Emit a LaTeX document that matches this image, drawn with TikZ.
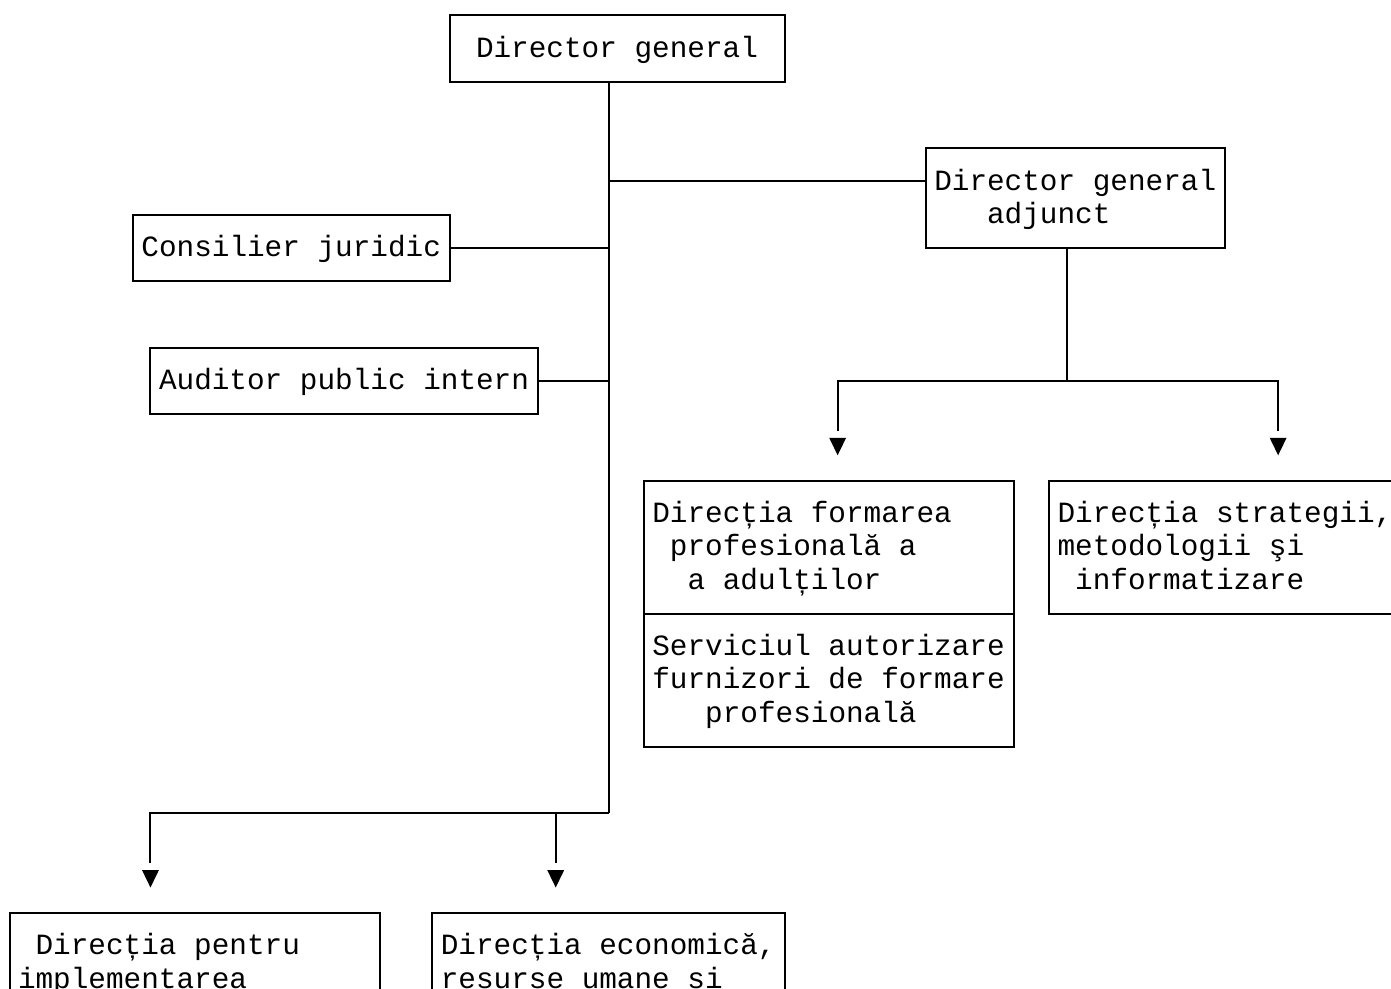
\documentclass[tikz,border=0pt]{standalone}
\usepackage{fontspec}
\newfontfamily\courfont{Liberation Mono}[WordSpace={1,0,0}]
\newcommand{\boxfont}{\courfont\fontsize{29.36pt}{33.25pt}\selectfont}
\newcommand{\st}{\spaceskip=17.6189pt plus 0pt minus 0pt\relax\xspaceskip=\spaceskip
  \baselineskip=33.25pt\relax\lineskip=0pt\relax\lineskiplimit=0pt\relax
  \rule[-7.85pt]{0pt}{33.25pt}}
\setlength{\parindent}{0pt}
\tikzset{
  orgbox/.style={draw, line width=2pt, rectangle, inner xsep=8.81pt, inner ysep=0pt,
    align=left, font=\boxfont, anchor=center},
  link/.style={line width=2pt, line join=miter},
}
\newcommand{\tri}[1]{\fill[black] (#1) ++(-8.5,-9.5) -- ++(17,0) -- ++(-8.5,17.5) -- cycle;}
\begin{document}
\begin{tikzpicture}[x=1pt,y=-1pt]
\useasboundingbox (0,0) rectangle (1391,988);
\fill[white] (0,0) rectangle (1391,988);
\clip (0,0) rectangle (1391,988);

% boxes
\node[orgbox, text width=318pt, minimum height=66.5pt, inner xsep=8.39pt] (dg) at (617.39,48.25)
  {\st\phantom{a}Director general};
\node[orgbox, text width=282.5pt, minimum height=99.75pt, inner xsep=8.52pt] (dga) at (1075.51,197.875)
  {\st Director general\\\st\phantom{aaa}adjunct};
\node[orgbox, text width=300pt, minimum height=66.5pt, inner xsep=8.58pt] (cj) at (291.42,247.75)
  {\st Consilier juridic};
\node[orgbox, text width=370.5pt, minimum height=66.5pt, inner xsep=8.57pt] (api) at (344.28,380.75)
  {\st Auditor public intern};
\node[orgbox, text width=353pt, minimum height=133pt, inner xsep=8.51pt] (dfp) at (828.83,547)
  {\st Direcția formarea\\\st\phantom{a}profesională a\\\st\phantom{aa}a adulților};
\node[orgbox, text width=353pt, minimum height=133pt, inner xsep=8.51pt] (sa) at (828.83,680)
  {\st Serviciul autorizare\\\st furnizori de formare\\\st\phantom{aaa}profesională};
\node[orgbox, text width=335.5pt, minimum height=133pt, inner xsep=8.45pt] (dsm) at (1225.28,547)
  {\st Direcția strategii,\\\st metodologii şi\\\st\phantom{a}informatizare};
\node[orgbox, text width=353pt, minimum height=99.75pt, inner xsep=8.51pt] (dpi) at (194.51,962.625)
  {\st\phantom{a}Direcția pentru\\\st implementarea};
\node[orgbox, text width=335.5pt, minimum height=99.75pt, inner xsep=8.45pt] (der) at (608.58,962.625)
  {\st Direcția economică,\\\st resurse umane și};

% junction coordinates
\coordinate (tb) at (608.58,813);
\coordinate (ja) at (608.58,181.25);
\coordinate (jd) at (1066.7,380.75);
\coordinate (al) at (837.64,430.625);
\coordinate (ar) at (1278.14,430.625);
\coordinate (bl) at (150.46,862.875);
\coordinate (br) at (555.72,862.875);

% connectors
\draw[link] (dg.south -| tb) -- (tb);
\draw[link] (ja) -- (ja -| dga.west);
\draw[link] (cj.east) -- (cj.east -| tb);
\draw[link] (api.east) -- (api.east -| tb);
\draw[link] (dga.south -| jd) -- (jd);
\draw[link] (al) -- (al |- jd) -- (ar |- jd) -- (ar);
\draw[link] (tb) -- (tb -| bl) -- (bl);
\draw[link] (br |- tb) -- (br);

% arrowheads
\coordinate (tl) at (837.64,447.25);
\coordinate (tr) at (1278.14,447.25);
\coordinate (tbl) at (150.46,879.5);
\coordinate (tbr) at (555.72,879.5);
\tri{tl}
\tri{tr}
\tri{tbl}
\tri{tbr}
\end{tikzpicture}
\end{document}
